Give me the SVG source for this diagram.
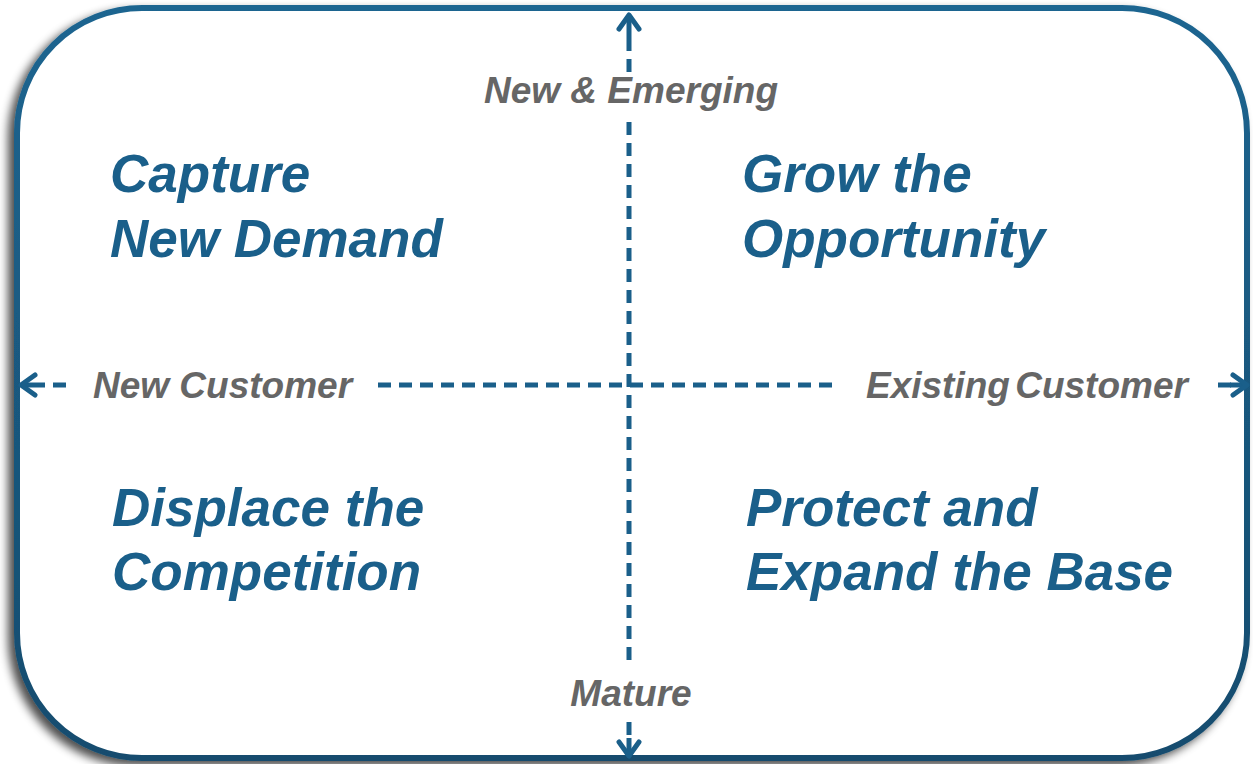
<svg xmlns="http://www.w3.org/2000/svg" width="1253" height="764" viewBox="0 0 1253 764">
<defs>
<filter id="shadow" x="-5%" y="-5%" width="110%" height="112%">
<feGaussianBlur in="SourceAlpha" stdDeviation="5"/>
<feOffset dx="-6" dy="5" result="b"/>
<feComponentTransfer><feFuncA type="linear" slope="0.7"/></feComponentTransfer>
<feMerge><feMergeNode/><feMergeNode in="SourceGraphic"/></feMerge>
</filter>
<linearGradient id="border" x1="0" y1="0" x2="0" y2="1">
<stop offset="0" stop-color="#1c6590"/>
<stop offset="1" stop-color="#174c6e"/>
</linearGradient>
<marker id="arr" viewBox="0 0 22 26" refX="19" refY="13" markerWidth="22" markerHeight="26" markerUnits="userSpaceOnUse" orient="auto">
<path d="M5 3 L19 13 L5 23" fill="none" stroke="#1a5f8a" stroke-width="5" stroke-linecap="round" stroke-linejoin="round"/>
</marker>
</defs>
<style>
.q{font-family:"Liberation Sans",Arial,sans-serif;font-weight:bold;font-style:italic;font-size:53px;fill:#1a5f8a}
.ax{font-family:"Liberation Sans",Arial,sans-serif;font-weight:bold;font-style:italic;font-size:37px;fill:#666666}
.d{stroke:#1a5f8a;stroke-width:5;stroke-dasharray:13 8;fill:none}
.s{stroke:#1a5f8a;stroke-width:5}
</style>
<rect width="1253" height="764" fill="#ffffff"/>
<g id="frame">
<rect x="17" y="8" width="1230" height="750" rx="125" ry="125" fill="#ffffff" stroke="url(#border)" stroke-width="6" filter="url(#shadow)"/>
</g>
<g id="connectors">
<line class="d" x1="629" y1="72" x2="629" y2="40"/>
<line class="s" x1="629" y1="40" x2="629" y2="15" marker-end="url(#arr)"/>
<line class="d" x1="629" y1="122" x2="629" y2="662"/>
<line class="d" x1="629" y1="722" x2="629" y2="740"/>
<line class="s" x1="629" y1="738" x2="629" y2="756" marker-end="url(#arr)"/>
<line class="d" x1="66" y1="385" x2="40" y2="385"/>
<line class="s" x1="40" y1="385" x2="21" y2="385" marker-end="url(#arr)"/>
<line class="d" x1="378" y1="385" x2="838" y2="385"/>
<line class="d" x1="1218" y1="385" x2="1232" y2="385"/>
<line class="s" x1="1230" y1="385" x2="1247" y2="385" marker-end="url(#arr)"/>
</g>
<g id="axis-labels">
<text class="ax" x="631" y="103" text-anchor="middle">New &amp; Emerging</text>
<text class="ax" x="631" y="706" text-anchor="middle">Mature</text>
<text class="ax" x="93" y="398">New Customer</text>
<text class="ax" x="866" y="398" word-spacing="-5">Existing Customer</text>
</g>
<g id="q1">
<text class="q" x="110" y="192">Capture</text>
<text class="q" x="110" y="257">New Demand</text>
</g>
<g id="q2">
<text class="q" x="742" y="192">Grow the</text>
<text class="q" x="742" y="257">Opportunity</text>
</g>
<g id="q3">
<text class="q" x="112" y="526">Displace the</text>
<text class="q" x="112" y="590">Competition</text>
</g>
<g id="q4">
<text class="q" x="746" y="526">Protect and</text>
<text class="q" x="746" y="590">Expand the Base</text>
</g>
</svg>
